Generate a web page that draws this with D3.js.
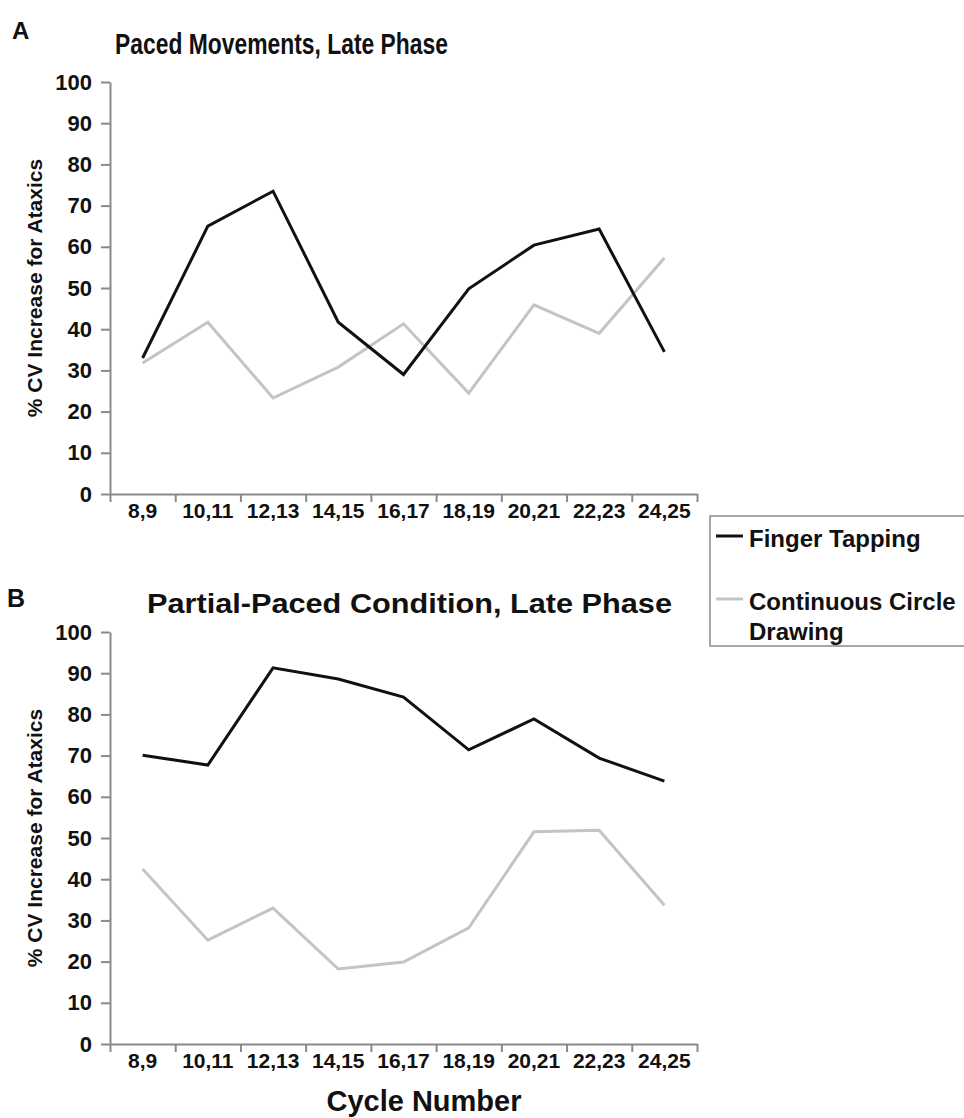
<!DOCTYPE html>
<html>
<head>
<meta charset="utf-8">
<script src="https://cdn.jsdelivr.net/npm/d3@7"></script>
<style>
  body { margin: 0; background: #fff; }
  svg text { font-family: "Liberation Sans", Arial, Helvetica, sans-serif; font-weight: bold; fill: #111; }
</style>
</head>
<body>
<div id="chart"></div>
<script>
// cycle pairs on the x axis
let cycles = ["8,9", "10,11", "12,13", "14,15", "16,17", "18,19", "20,21", "22,23", "24,25"]
let yTicks = [0, 10, 20, 30, 40, 50, 60, 70, 80, 90, 100]

// panel A: paced movements, late phase
let pacedTapping = [33, 65, 73.5, 41.7, 29, 49.8, 60.4, 64.3, 34.5]
let pacedCircle = [31.8, 41.7, 23.3, 30.8, 41.3, 24.5, 45.9, 39, 57.3]

// panel B: partial-paced condition, late phase
let partialTapping = [70.1, 67.7, 91.3, 88.6, 84.2, 71.4, 78.9, 69.4, 63.8]
let partialCircle = [42.5, 25.2, 33, 18.2, 19.9, 28.2, 51.5, 51.9, 33.7]

let seriesNames = ["Finger Tapping", "Continuous Circle Drawing"]
let seriesColors = ["#111111", "#c4c4c4"]

let svg = d3.select("#chart").append("svg")
  .attr("width", 964)
  .attr("height", 1118)

let x = d3.scaleBand().domain(cycles).range([110, 697]).padding(0)
let xIdx = d3.scaleLinear().domain([0, cycles.length]).range([110, 697])

function drawPanel(top, bottom, tapping, circle) {
  let y = d3.scaleLinear().domain([0, 100]).range([bottom, top])
  let g = svg.append("g")

  // y axis
  let ya = g.append("g")
    .attr("transform", "translate(110,0)")
    .call(d3.axisLeft(y).tickValues(yTicks).tickSize(9).tickSizeOuter(0).tickPadding(9))
  ya.selectAll("text").style("font-size", "22px")

  // x boundary ticks
  g.append("g")
    .attr("transform", "translate(0," + bottom + ")")
    .call(d3.axisBottom(xIdx).ticks(cycles.length).tickSize(8).tickSizeOuter(0).tickFormat(""))

  // x labels
  let xa = g.append("g")
    .attr("transform", "translate(0," + bottom + ")")
    .call(d3.axisBottom(x).tickSize(0).tickPadding(9))
  xa.select(".domain").remove()
  xa.selectAll("text").style("font-size", "21px")

  g.selectAll(".domain, .tick line")
    .attr("stroke", "#8a8a8a")
    .attr("stroke-width", 2)

  let line = d3.line()
    .x((d, i) => x(cycles[i]) + x.bandwidth() / 2)
    .y(d => y(d))

  g.append("path").datum(circle)
    .attr("d", line)
    .attr("fill", "none")
    .attr("stroke", seriesColors[1])
    .attr("stroke-width", 3)

  g.append("path").datum(tapping)
    .attr("d", line)
    .attr("fill", "none")
    .attr("stroke", seriesColors[0])
    .attr("stroke-width", 3)

  // y axis label
  svg.append("text")
    .attr("transform", "translate(42," + (top + bottom) / 2 + ") rotate(-90)")
    .attr("text-anchor", "middle")
    .style("font-size", "21px")
    .text("% CV Increase for Ataxics")
}

drawPanel(82, 494, pacedTapping, pacedCircle)
drawPanel(632, 1044, partialTapping, partialCircle)

// panel letters and titles
svg.append("text").attr("x", 12).attr("y", 39).style("font-size", "24px").text("A")
svg.append("text").attr("x", 7).attr("y", 607).style("font-size", "25px").text("B")

svg.append("text")
  .attr("x", 115).attr("y", 54)
  .attr("textLength", 333).attr("lengthAdjust", "spacingAndGlyphs")
  .style("font-size", "29px")
  .text("Paced Movements, Late Phase")

svg.append("text")
  .attr("x", 147).attr("y", 613)
  .attr("textLength", 525).attr("lengthAdjust", "spacingAndGlyphs")
  .style("font-size", "27px")
  .text("Partial-Paced Condition, Late Phase")

svg.append("text")
  .attr("x", 424).attr("y", 1111)
  .attr("text-anchor", "middle")
  .style("font-size", "29px")
  .text("Cycle Number")

// legend
let legend = svg.append("g")
legend.append("rect")
  .attr("x", 710).attr("y", 516)
  .attr("width", 300).attr("height", 130)
  .attr("fill", "none")
  .attr("stroke", "#8a8a8a")
  .attr("stroke-width", 1.5)

let legendY = [536, 599]
seriesNames.forEach(function (name, i) {
  legend.append("line")
    .attr("x1", 716).attr("x2", 743)
    .attr("y1", legendY[i]).attr("y2", legendY[i])
    .attr("stroke", seriesColors[i])
    .attr("stroke-width", 3)
})
legend.append("text")
  .attr("x", 749).attr("y", 547)
  .style("font-size", "24px")
  .text(seriesNames[0])
let t2 = legend.append("text")
  .attr("x", 749).attr("y", 610)
  .style("font-size", "24px")
t2.append("tspan").attr("x", 749).text("Continuous Circle")
t2.append("tspan").attr("x", 749).attr("dy", 30).text("Drawing")
</script>
</body>
</html>
